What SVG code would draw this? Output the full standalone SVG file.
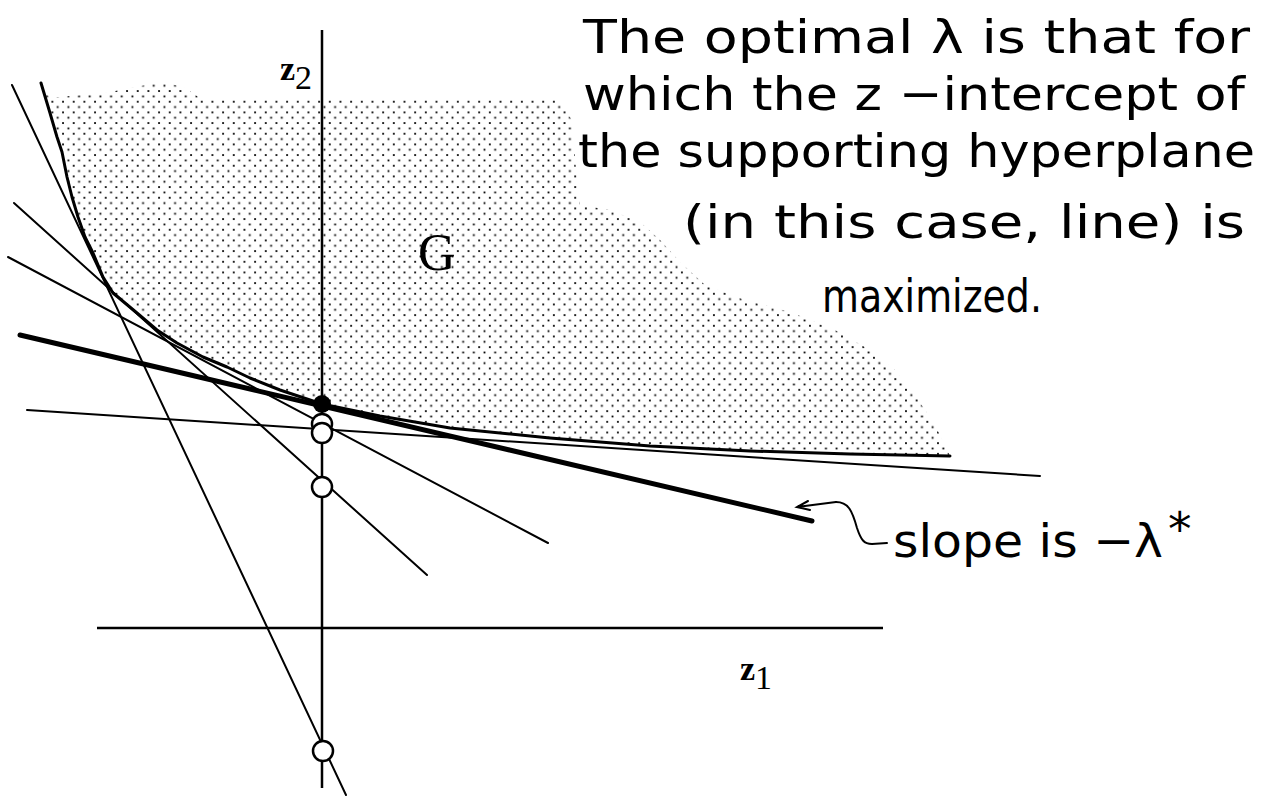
<svg xmlns="http://www.w3.org/2000/svg" width="1267" height="804" viewBox="0 0 1267 804">
  <defs>
    <pattern id="stipple" x="9.7" y="5.7" width="10.67" height="10.67" patternUnits="userSpaceOnUse">
      <rect x="-0.9" y="-0.9" width="1.8" height="1.8" fill="#000"/>
      <rect x="4.43" y="4.43" width="1.8" height="1.8" fill="#000"/>
      <rect x="9.77" y="-0.9" width="1.8" height="1.8" fill="#000"/>
      <rect x="-0.9" y="9.77" width="1.8" height="1.8" fill="#000"/>
      <rect x="9.77" y="9.77" width="1.8" height="1.8" fill="#000"/>
    </pattern>
  </defs>
  <style>
    .thin { stroke: #000; stroke-width: 2; fill: none; stroke-linecap: round; }
    .axis { stroke: #000; stroke-width: 2.5; fill: none; }
    .thick { stroke: #000; stroke-width: 5; fill: none; stroke-linecap: round; }
    .curve { stroke: #000; stroke-width: 3; fill: none; stroke-linejoin: round; stroke-linecap: round; }
    .open { fill: #fff; stroke: #000; stroke-width: 2.5; }
    .txt { font-family: "DejaVu Sans", "Liberation Sans", sans-serif; font-size: 47px; fill: #000; }
    .lbl { font-family: "Liberation Serif", serif; fill: #000; }
  </style>
  <rect width="1267" height="804" fill="#fff"/>

  <g id="region-G">
    <path fill="url(#stipple)" d="M41,83 L50,113 L57,137 L62,152 L67,177 L72,197 L78,217 L85,237 L93,253 L103,277 L113,293 L137,313 L157,330 L177,343 L203,357 L227,367 L250,378 L280,390 L322,404 L380,416 L450,428 L550,438 L650,446 L750,451 L850,454 L950,456 L935,425 L915,395 L895,370 L870,350 L835,330 L790,312 L745,300 L705,285 L680,262 L660,240 L640,222 L610,210 L580,205 L576,170 L572,120 L558,100 L200,98 L185,88 L165,82 L140,86 L110,92 L50,98 Z"/>
    <polyline class="curve" points="41,83 50,113 57,137 62,152 67,177 72,197 78,217 85,237 93,253 103,277 113,293 137,313 157,330 177,343 203,357 227,367 250,378 280,390 322,404 380,416 450,428 550,438 650,446 750,451 850,454 950,456"/>
    <text class="lbl" x="418" y="270" font-size="52">G</text>
  </g>

  <g id="connectors">
    <line id="axis-z2" class="axis" x1="322" y1="30" x2="322" y2="788"/>
    <line id="axis-z1" class="axis" x1="97" y1="628" x2="883" y2="628"/>
    <line id="line-steep" class="thin" x1="12" y1="85" x2="346" y2="795"/>
    <line id="line-mid" class="thin" x1="14" y1="203" x2="427" y2="575"/>
    <line id="line-shallow" class="thin" x1="8" y1="257" x2="548" y2="543"/>
    <line id="line-flat" class="thin" x1="27" y1="410" x2="1040" y2="476"/>
    <line id="line-optimal" class="thick" x1="20" y1="335" x2="812" y2="521"/>
    <path id="pointer" class="thin" d="M836,502 C848,502 852,510 857,528 C861,540 864,544 872,544 L887,543"/>
    <path id="pointer-head" class="thin" stroke-width="3" d="M797,507 L836,502 M808,501 L797,507 L810,510"/>
  </g>

  <g id="points">
    <circle class="open" cx="322" cy="424" r="10"/>
    <circle class="open" cx="322" cy="433" r="10"/>
    <circle class="open" cx="322" cy="487" r="10"/>
    <circle class="open" cx="323" cy="751" r="10"/>
    <circle cx="322" cy="404" r="9" fill="#000"/>
  </g>

  <g id="axis-labels">
    <text class="lbl" x="280" y="80" font-size="34" font-weight="bold">z<tspan font-size="34" font-weight="normal" dy="9">2</tspan></text>
    <text class="lbl" x="740" y="680" font-size="34" font-weight="bold">z<tspan font-size="34" font-weight="normal" dy="9">1</tspan></text>
  </g>

  <g id="caption">
    <text class="txt" x="583" y="53" textLength="667" lengthAdjust="spacingAndGlyphs">The optimal  λ  is that for</text>
    <text class="txt" x="583" y="110" textLength="662" lengthAdjust="spacingAndGlyphs">which the z −intercept of</text>
    <text class="txt" x="578" y="167" textLength="677" lengthAdjust="spacingAndGlyphs">the supporting hyperplane</text>
    <text class="txt" x="683" y="238" textLength="562" lengthAdjust="spacingAndGlyphs">(in this case, line) is</text>
    <text class="txt" x="822" y="312" textLength="220" lengthAdjust="spacingAndGlyphs">maximized.</text>
  </g>

  <g id="slope-label">
    <text class="txt" x="893" y="557" textLength="270" lengthAdjust="spacingAndGlyphs">slope is −λ</text>
    <text class="txt" x="1168" y="545" font-size="36">*</text>
  </g>
</svg>
